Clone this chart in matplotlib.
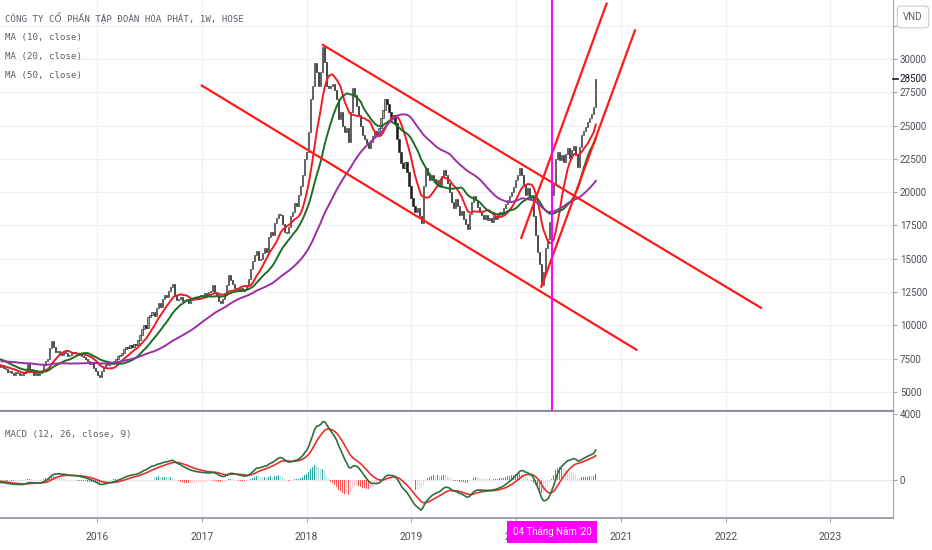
import matplotlib
matplotlib.use("Agg")
import matplotlib.pyplot as plt
import matplotlib.dates as mdates
import numpy as np
import pandas as pd

# weekly closes (VND)
FIRST_VISIBLE_WEEK = "2015-02-02"
# off-screen weeks before the first visible bar (only feed the MA / MACD warm-up)
pre_close = [
    6900, 7000, 7100, 7300, 7200, 7000, 7100, 7200, 7300, 7200,
    7000, 6900, 7000, 7100, 7200, 7300, 7400, 7300, 7200, 7100,
    7200, 7300, 7400, 7300, 7200, 7300, 7400, 7500, 7600,
    7700, 7900, 8100, 8200, 8000, 7900, 8000, 7800, 7700, 7600,
    7400, 7300, 7100, 7000, 6900, 7000, 6800, 6900, 7000, 6900,
]
close = [
    7000, 6800, 6700, 6500, 6600, 6400, 6300, 6500, 6400, 6300,
    6300, 6400, 6600, 7100, 6700, 6500, 6300, 6400, 6300, 6400,
    6600, 7000, 7300, 7500, 8300, 8800, 8400, 8000, 8100, 7900,
    7800, 8000, 7900, 7700, 7800, 7900, 8000, 7900, 7800, 7900,
    7700, 7600, 7500, 7300, 7100, 7200, 6800, 6600, 6300, 6100,
    6600, 6900, 7100, 7000, 7200, 7100, 7300, 7500, 7700, 7800,
    7900, 8200, 8400, 8300, 8500, 8400, 8600, 8500, 8900, 9300,
    9700, 10000, 9800, 10600, 10800, 11000, 10700, 11300, 11700, 11400,
    12000, 12300, 12100, 12600, 12900, 13100, 12300, 11900, 12000, 12100,
    11800, 11900, 12000, 11700, 11900, 12000, 12100, 12000, 12200, 12300,
    12200, 12400, 12300, 12500, 12600, 13000, 12500, 12300, 11800, 11700,
    12000, 12400, 13000, 13800, 13400, 13100, 12800, 12700, 12600, 12800,
    12600, 12700, 13000, 13500, 14200, 14800, 15300, 15600, 14900, 15000,
    15400, 15800, 15500, 16600, 17000, 16800, 17700, 18100, 18400, 18300,
    17600, 17000, 16900, 17400, 18200, 18500, 19200, 19000, 19800, 20500,
    21300, 22500, 23000, 24500, 27000, 28000, 29700, 29000, 28000, 29000,
    30900, 29800, 28000, 27800, 28000, 28100, 27700, 27000, 25500, 26000,
    25000, 24500, 24800, 23800, 26000, 27800, 27300, 26500, 25800, 25000,
    24300, 24000, 23700, 23300, 23800, 24200, 24600, 24300, 24800, 25600,
    26200, 27000, 26600, 26000, 25600, 25800, 25200, 24000, 23000, 22200,
    21800, 22300, 21500, 20500, 19600, 19000, 18500, 18800, 18200, 17700,
    20500, 21800, 21300, 20900, 21300, 21000, 20700, 20900, 20500, 21200,
    21700, 21300, 20700, 20000, 19300, 18800, 19500, 19000, 18300, 18600,
    18000, 17600, 17200, 18400, 19300, 19700, 19400, 18900, 18500, 18300,
    18000, 18300, 17900, 18100, 17800, 18200, 18000, 18300, 18500, 18400,
    18800, 19100, 19400, 19700, 20000, 20400, 20900, 21300, 21800, 21300,
    20600, 19800, 20300, 19600, 19700, 18200, 16800, 15500, 14600, 13000,
    14000, 15800, 16500, 17800, 19800, 20600, 22500, 23000, 22400, 22800,
    22300, 22900, 23300, 22600, 23200, 23500, 22800, 21900, 23400, 24300,
    24600, 24900, 25300, 25600, 25900, 26400, 28500,
]
last_price = 28500

ma_periods = [10, 20, 50]
ma_colors = ["#ee1c25", "#1b6e24", "#9c2fa3"]

# hand-drawn trend lines: (start date, start price, end date, end price)
trend_lines = [
    ("2018-02-23", 31100, "2022-05-08", 11270),
    ("2016-12-28", 28050, "2021-02-27", 8130),
    ("2020-01-18", 16490, "2020-11-13", 34240),
    ("2020-03-28", 12830, "2021-02-20", 32230),
]
marker_date = "2020-05-04"
marker_label = "04 Tháng Năm '20"

years = list(range(2016, 2024))
price_ticks = list(range(5000, 32501, 2500))
# the top tick's label sits under the currency box
price_labels = [str(v) for v in price_ticks[:-1]] + [""]
macd_ticks = [0, 4000]

title_lines = ["CÔNG TY CỔ PHẦN TẬP ĐOÀN HÒA PHÁT, 1W, HOSE",
               "MA (10, close)", "MA (20, close)", "MA (50, close)"]

# ---------------------------------------------------------------
vis_dates = pd.date_range(FIRST_VISIBLE_WEEK, periods=len(close), freq="7D")
pre_dates = pd.date_range(end=vis_dates[0] - pd.Timedelta(days=7),
                          periods=len(pre_close), freq="7D")
dates = pre_dates.append(vis_dates)
c = pd.Series(pre_close + close, index=dates, dtype=float)
o = c.shift(1).fillna(c.iloc[0])

ema12 = c.ewm(span=12, adjust=False).mean()
ema26 = c.ewm(span=26, adjust=False).mean()
macd = ema12 - ema26
signal = macd.ewm(span=9, adjust=False).mean()
hist = macd - signal

grid_c = "#eef0f6"
txt_c = "#4c4f59"
axis_c = "#a3a6af"

fig = plt.figure(figsize=(9.32, 5.5), dpi=100)
ax = fig.add_axes([0, 1 - 411 / 550, 893 / 932, 411 / 550])
axm = fig.add_axes([0, 1 - 518 / 550, 893 / 932, 106 / 550])

d2016 = mdates.date2num(pd.Timestamp("2016-01-01"))
px_day = 1827 / 524
xl = (d2016 - 97 * px_day, d2016 + 796 * px_day)

xs = mdates.date2num(dates)
up = (c >= o).values
body_lo = np.minimum(o.values, c.values)
body_h = np.maximum(np.abs(c.values - o.values), 80)
ax.bar(xs, body_h, bottom=body_lo, width=4.0,
       color=np.where(up, "#a2a2a2", "#1e1e1e"), edgecolor="#262626",
       linewidth=0.45, zorder=3)

for p, col in zip(ma_periods, ma_colors):
    ax.plot(xs, c.rolling(p).mean().values, color=col, lw=1.4, zorder=4)

for d0, p0, d1, p1 in trend_lines:
    ax.plot([pd.Timestamp(d0), pd.Timestamp(d1)], [p0, p1],
            color="#ff1a1a", lw=1.6, zorder=5, solid_capstyle="butt")

ax.axvline(pd.Timestamp(marker_date), color="#ff00ff", lw=1.4, zorder=6)

ax.set_xlim(xl)
ax.set_ylim(3573, 34430)
ax.set_yticks(price_ticks)
ax.set_yticklabels(price_labels)
ax.yaxis.tick_right()
ax.set_xticks([mdates.date2num(pd.Timestamp(f"{y}-01-01")) for y in years])
ax.tick_params(axis="x", length=0, labelbottom=False)
ax.tick_params(axis="y", length=3, width=0.8, color=axis_c, labelsize=7,
               labelcolor=txt_c, pad=2)
ax.grid(True, color=grid_c, lw=0.9, zorder=0)
for lab in ax.get_yticklabels():
    lab.set_fontfamily("Roboto")
for s in ["top", "left"]:
    ax.spines[s].set_visible(False)
ax.spines["right"].set_color(axis_c)
ax.spines["bottom"].set_color("#8e919b")
ax.spines["bottom"].set_linewidth(1.6)

ax.annotate(str(last_price), xy=(1.0, last_price), xycoords=ax.get_yaxis_transform(),
            xytext=(5, 0), textcoords="offset points",
            ha="left", va="center", fontsize=7, family="Roboto", color="#131722",
            bbox=dict(boxstyle="square,pad=0.2", fc="white", ec="none"),
            annotation_clip=False, zorder=10)
ax.plot([1.0, 1.006], [last_price, last_price], color="#131722", lw=1.2,
        transform=ax.get_yaxis_transform(), clip_on=False, zorder=11)

for k, line in enumerate(title_lines):
    ax.text(5 / 893, 1 - (18 + 19.3 * k) / 411, line, transform=ax.transAxes,
            ha="left", va="center", fontsize=6.6, color="#5d606b",
            family=["DejaVu Sans Mono", "DejaVu Sans"], zorder=12)

fig.text(913 / 932, 1 - 17 / 550, "VND", ha="center", va="center",
         fontsize=7, family="Roboto", color="#5d606b",
         bbox=dict(boxstyle="round,pad=0.6,rounding_size=0.35", fc="white",
                   ec="#c9ccd4", lw=0.8))

# MACD pane
hist_v = hist.values
prev = np.r_[hist_v[0], hist_v[:-1]]
hcol = np.where(hist_v >= 0,
                np.where(hist_v >= prev, "#26a69a", "#b2dfdb"),
                np.where(hist_v < prev, "#ff5252", "#ffcdd2"))
axm.bar(xs, hist_v, width=3.0, color=hcol, linewidth=0, zorder=2)
axm.plot(xs, macd.values, color="#2f6f3e", lw=1.2, zorder=4)
axm.plot(xs, signal.values, color="#e8302f", lw=1.2, zorder=3)
axm.axhline(0, color="#e9ebf2", lw=0.9, zorder=1)

axm.set_xlim(xl)
axm.set_ylim(-2300, 4120)
axm.set_yticks(macd_ticks)
axm.yaxis.tick_right()
axm.set_xticks([mdates.date2num(pd.Timestamp(f"{y}-01-01")) for y in years])
axm.set_xticklabels([str(y) for y in years])
axm.tick_params(axis="x", length=3, width=0.8, color=axis_c, labelsize=7.5,
                labelcolor=txt_c, pad=7)
axm.tick_params(axis="y", length=3, width=0.8, color=axis_c, labelsize=7,
                labelcolor=txt_c, pad=2)
axm.grid(True, axis="x", color=grid_c, lw=0.9, zorder=0)
for lab in axm.get_yticklabels() + axm.get_xticklabels():
    lab.set_fontfamily("Roboto")
for s in ["top", "left"]:
    axm.spines[s].set_visible(False)
axm.spines["right"].set_color(axis_c)
axm.spines["bottom"].set_color("#8e919b")
axm.spines["bottom"].set_linewidth(1.2)

axm.text(5 / 893, 1 - 22 / 106, "MACD (12, 26, close, 9)", transform=axm.transAxes,
         ha="left", va="center", fontsize=6.6, color="#5d606b",
         family=["DejaVu Sans Mono", "DejaVu Sans"])

fig.text(552 / 932, 1 - 532 / 550, marker_label, ha="center", va="center",
         fontsize=7, family="Roboto", color="white",
         bbox=dict(boxstyle="square,pad=0.6", fc="#ff00ff", ec="none"))

fig.savefig("out.png", dpi=100, facecolor="white")
